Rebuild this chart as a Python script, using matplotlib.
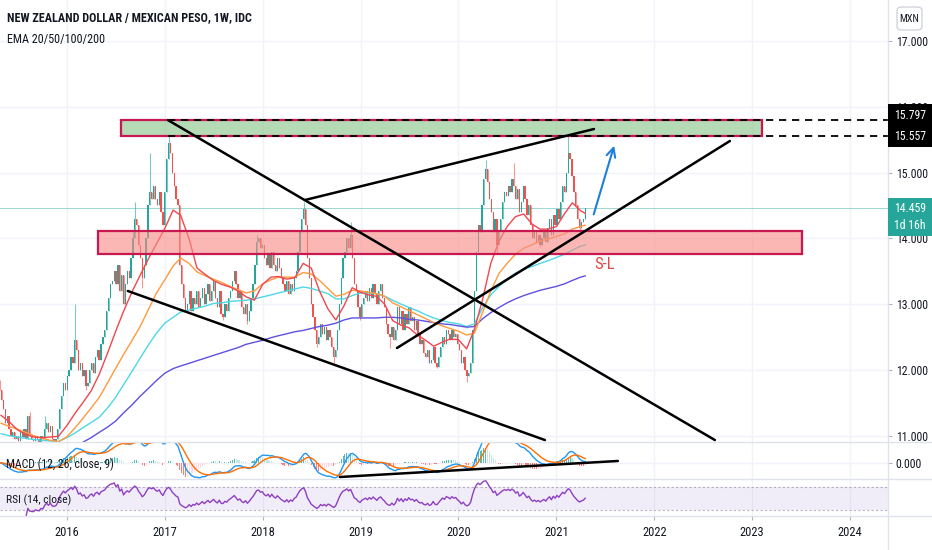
import numpy as np
import pandas as pd
import matplotlib
matplotlib.use("Agg")
import matplotlib.pyplot as plt
import matplotlib.dates as mdates
from matplotlib.patches import Rectangle, FancyBboxPatch
from matplotlib.lines import Line2D
from matplotlib import font_manager

# ---- pick the narrowest sans family that is installed ----
_fl = font_manager.fontManager.ttflist
_names = {f.name for f in _fl}
_fam, _stretch = None, 'normal'
for p in ["Liberation Sans Narrow", "Roboto Condensed", "Open Sans Condensed", "Noto Sans Condensed"]:
    if p in _names:
        _fam = p
        break
if _fam is None:
    for pref in ["Noto Sans", "Roboto", "Open Sans", "DejaVu Sans"]:
        hits = [f for f in _fl if f.name == pref and f.stretch in ('condensed', 'semi-condensed', 'extra-condensed')]
        if hits:
            _fam, _stretch = pref, hits[0].stretch
            break
if _fam is None:
    _fam = "Liberation Sans" if "Liberation Sans" in _names else "DejaVu Sans"
plt.rcParams['font.family'] = [_fam, "DejaVu Sans"]
plt.rcParams['font.stretch'] = _stretch

# ---------------- data ----------------
first_week = "2015-04-26"
first_open = 11.85
closes = [
 11.70, 11.55, 11.40, 11.20, 11.30, 11.10, 11.00,
 11.05, 10.95, 11.00, 10.92, 11.05, 10.98, 11.10, 10.95, 11.30, 11.00,
 10.95, 10.92, 11.00, 10.95, 10.90, 11.00, 10.95,
 11.10, 11.20, 11.05, 11.15, 10.95, 10.92,
 10.95, 11.10, 11.40, 11.60, 11.80, 11.70, 11.90,
 12.00, 12.20, 12.10, 12.45, 12.30, 12.00, 12.10, 11.90, 12.00, 11.75, 11.80,
 12.00, 12.10, 11.95, 12.20, 12.30, 12.15, 12.40, 12.50,
 12.60, 12.90, 13.10, 13.30,
 13.35, 13.50, 13.30, 13.60, 13.20, 13.45, 13.00, 13.30, 13.50, 13.40,
 13.70, 14.00, 14.30, 14.20,
 13.90, 13.70, 13.40, 13.60,
 14.00, 14.50, 14.70, 14.60,
 14.80, 14.60, 14.50, 14.70, 14.40, 14.20,
 14.70, 15.20, 15.45, 15.30,
 15.00, 14.80, 14.60, 14.50,
 13.60,
 13.30, 13.10, 12.90, 13.00, 13.20, 12.90, 13.10,
 13.00, 13.20, 12.95, 13.10, 13.25, 13.00, 13.15, 13.30, 13.05, 13.20,
 13.35, 13.10, 12.95, 13.20, 12.85, 12.80, 13.00, 12.90, 13.10,
 13.20, 13.35, 13.50, 13.30, 13.10, 13.20, 12.95, 12.85,
 13.00, 12.75, 12.90, 13.10, 13.30, 13.60, 13.95,
 14.00, 13.85, 13.90, 13.70,
 13.60, 13.75, 13.55, 13.80, 13.60, 13.50, 13.70, 13.55, 13.40, 13.30,
 13.20, 13.35, 13.15, 13.30, 13.20, 13.40, 13.50,
 13.80, 14.10, 14.30, 14.45,
 14.20, 13.70, 13.40, 13.00,
 12.80, 12.60, 12.40, 12.50, 12.70,
 12.55, 12.65, 12.45, 12.60, 12.50, 12.35, 12.20, 12.30,
 12.60, 13.00, 13.40, 13.70, 13.80, 14.00, 13.85, 14.05,
 13.70, 13.30, 13.20, 12.95, 12.80, 13.00, 13.10,
 13.20, 13.05, 13.25, 13.10, 13.30, 13.15, 13.00, 13.20, 13.30, 13.10, 12.95,
 12.70, 12.55, 12.50, 12.65, 12.45,
 12.60, 12.95, 12.70, 12.90, 12.60, 12.85, 12.70, 12.95, 12.75,
 12.80, 12.60, 12.75, 12.55, 12.40, 12.45, 12.25,
 12.20, 12.30, 12.10, 12.15, 12.35, 12.10, 12.05, 12.20,
 12.35, 12.50, 12.40, 12.60, 12.55, 12.45, 12.60, 12.50, 12.55, 12.40,
 12.30, 12.10, 12.20, 12.00, 11.90,
 11.95, 12.10, 12.60, 13.20, 13.80, 14.20, 14.10, 14.50, 14.90, 15.05, 14.85, 14.60,
 14.40, 14.10, 14.30, 13.90, 14.10,
 14.30, 14.55, 14.70, 14.65, 14.80, 14.70, 14.90, 14.80,
 14.60, 14.75, 14.40, 14.55, 14.80, 14.60, 14.35, 14.50,
 14.20, 14.00, 14.10, 13.95, 14.05, 13.90, 14.00, 14.10, 13.95, 14.15,
 14.30, 14.05, 14.35, 14.20, 14.45, 14.30, 14.55, 14.80, 14.70, 15.00, 15.30, 15.20,
 14.95, 14.70, 14.50, 14.30, 14.15, 14.25, 14.30, 14.459,
]
# notable wicks (week index -> price)
high_marks = {16: 11.36, 24: 11.30, 40: 13.00, 71: 14.10, 72: 14.55, 80: 15.30, 90: 15.55,
              137: 14.05, 162: 14.55, 187: 14.25, 259: 15.19, 274: 15.15, 303: 15.57}
low_marks = {46: 11.70, 76: 13.25, 119: 12.76, 132: 12.70, 169: 12.35, 178: 12.10, 192: 12.76,
             208: 12.33, 233: 12.03, 249: 11.82, 265: 13.78, 288: 13.87, 309: 14.12}

# EMAs, monthly samples + last week
ema_start = "2015-05-01"
ema20 = [11.31, 11.21, 11.09, 11.02, 10.98, 10.97, 10.98, 10.99,
         11.15, 11.34, 11.50, 11.68, 11.93, 12.25, 12.58, 12.90, 13.19, 13.44, 13.69, 13.92,
         14.15, 14.43, 14.35, 14.00, 13.55, 13.45, 13.36, 13.30, 13.26, 13.20, 13.11, 13.06,
         13.30, 13.41, 13.42, 13.38, 13.40, 13.62, 13.55, 13.20, 12.93, 12.76, 12.98, 13.25,
         13.18, 13.14, 13.12, 13.00, 12.75, 12.68, 12.64, 12.53, 12.45, 12.36, 12.42, 12.47,
         12.46, 12.32, 12.62, 13.08, 13.62, 13.96, 14.18, 14.33, 14.37, 14.22, 14.14, 14.14,
         14.18, 14.38, 14.54, 14.42, 14.38]
ema50 = [11.19, 11.14, 11.10, 11.05, 11.00, 10.96, 10.93, 10.91,
         10.98, 11.12, 11.26, 11.42, 11.58, 11.80, 12.02, 12.24, 12.45, 12.66, 12.92, 13.17,
         13.37, 13.58, 13.70, 13.62, 13.49, 13.43, 13.38, 13.33, 13.27, 13.22, 13.17, 13.20,
         13.31, 13.37, 13.41, 13.41, 13.41, 13.48, 13.46, 13.36, 13.24, 13.12, 13.15, 13.21,
         13.20, 13.18, 13.16, 13.12, 13.02, 12.96, 12.90, 12.84, 12.78, 12.72, 12.67, 12.63,
         12.59, 12.53, 12.56, 12.88, 13.20, 13.47, 13.62, 13.76, 13.85, 13.90, 13.96, 13.99,
         14.03, 14.07, 14.14, 14.18, 14.20]
ema100 = [11.03, 11.00, 10.98, 10.96, 10.94, 10.93, 10.92, 10.91,
          10.97, 11.04, 11.12, 11.20, 11.28, 11.42, 11.58, 11.78, 11.98, 12.18, 12.38, 12.56,
          12.71, 12.80, 12.88, 12.91, 12.94, 12.97, 13.01, 13.02, 13.04, 13.05, 13.06, 13.08,
          13.11, 13.14, 13.17, 13.20, 13.23, 13.26, 13.24, 13.20, 13.16, 13.08, 13.08, 13.13,
          13.17, 13.17, 13.16, 13.12, 13.06, 13.00, 12.95, 12.90, 12.84, 12.79, 12.75, 12.72,
          12.70, 12.66, 12.70, 12.95, 13.14, 13.27, 13.38, 13.47, 13.53, 13.57, 13.62, 13.66,
          13.71, 13.76, 13.82, 13.88, 13.90]
ema200_start = "2015-10-01"
ema200 = [10.62, 10.65, 10.70,
          10.76, 10.83, 10.90, 10.97, 11.05, 11.13, 11.22, 11.35, 11.47, 11.60, 11.72, 11.84,
          11.95, 12.02, 12.06, 12.10, 12.14, 12.18, 12.22, 12.26, 12.30, 12.34, 12.39, 12.42,
          12.45, 12.49, 12.52, 12.55, 12.58, 12.60, 12.63, 12.66, 12.68, 12.71, 12.76, 12.79,
          12.79, 12.79, 12.79, 12.80, 12.80, 12.79, 12.77, 12.76, 12.74, 12.72, 12.70, 12.69,
          12.67, 12.65, 12.66, 12.78, 12.87, 12.95, 13.02, 13.08, 13.13, 13.17, 13.21, 13.24,
          13.27, 13.31, 13.36, 13.41, 13.43]

# drawings (date, price anchors)
trend_lines = [("2017-01-13", 15.797, "2022-08-15", 10.934),
               ("2016-08-16", 13.200, "2020-11-19", 10.934),
               ("2018-06-08", 14.583, "2021-05-21", 15.662),
               ("2019-05-17", 12.333, "2022-10-10", 15.480)]
macd_trend = ("2018-10-16", -0.294, "2021-08-18", 0.035)
supply_zone = ("2016-07-21", "2023-02-06", 15.557, 15.797)
demand_zone = ("2016-04-26", "2023-07-05", 13.758, 14.117)
level_start = "2017-01-13"
levels = [15.797, 15.557]
last_price = 14.459
bar_timer = "1d 16h"
arrow = ("2021-05-17", 14.324, "2021-08-07", 15.449)
sl_label = ("2021-07-01", 13.595)
year_ticks = [2016, 2017, 2018, 2019, 2020, 2021, 2022, 2023, 2024]
price_ticks = [11, 12, 13, 14, 15, 16, 17]
title = "NEW ZEALAND DOLLAR / MEXICAN PESO, 1W, IDC"
subtitle = "EMA 20/50/100/200"
macd_title = "MACD (12, 26, close, 9)"
rsi_title = "RSI (14, close)"
currency = "MXN"

# ---------------- derived series ----------------
D = lambda s: mdates.date2num(pd.Timestamp(s))
c = pd.Series(closes, index=pd.date_range(first_week, periods=len(closes), freq="7D"))
dates = mdates.date2num(c.index.to_pydatetime())
opens = np.r_[first_open, c.values[:-1]]
cl = c.values
highs = np.maximum(opens, cl)
lows = np.minimum(opens, cl)
for k, v in high_marks.items():
    highs[k] = v
for k, v in low_marks.items():
    lows[k] = v

ema_dates = list(pd.date_range(ema_start, periods=len(ema20) - 1, freq="MS")) + [c.index[-1]]
ema200_dates = list(pd.date_range(ema200_start, periods=len(ema200) - 1, freq="MS")) + [c.index[-1]]

macd = c.ewm(span=12, adjust=False).mean() - c.ewm(span=26, adjust=False).mean()
signal = macd.ewm(span=9, adjust=False).mean()
hist = macd - signal
delta = c.diff()
gain = delta.clip(lower=0).ewm(alpha=1/14, adjust=False, min_periods=14).mean()
loss = (-delta.clip(upper=0)).ewm(alpha=1/14, adjust=False, min_periods=14).mean()
rsi = 100 - 100 / (1 + gain / loss)

# ---------------- layout ----------------
W, H = 932, 550
fig = plt.figure(figsize=(W / 100, H / 100), dpi=100)
R = fig.canvas.get_renderer()

def fit_size(s, size, maxw, **kw):
    t = fig.text(0, 0, s, fontsize=size, **kw)
    while t.get_window_extent(R).width > maxw and size > 6:
        size -= 0.25
        t.set_fontsize(size)
    t.remove()
    return size

def fr(x0, y0, x1, y1):
    return [x0 / W, 1 - y1 / H, (x1 - x0) / W, (y1 - y0) / H]
ax = fig.add_axes(fr(0, 0, 888, 442))
axm = fig.add_axes(fr(0, 442, 888, 479), sharex=ax)
axr = fig.add_axes(fr(0, 479, 888, 516), sharex=ax)

d16 = D("2016-01-01")
ppd = (850 - 66.7) / (D("2024-01-01") - d16)
xl = (d16 - 66.7 / ppd, d16 + (888 - 66.7) / ppd)
ax.set_xlim(*xl)
ppu = (435.7 - 41) / 6.0
ax.set_ylim(17 - 401 / ppu, 17 + 41 / ppu)
axm.set_ylim(-0.335, 0.425)
axr.set_ylim(19.7, 83.2)

TXT = '#131722'
GRID = '#f0f3fa'
AX_FS = fit_size("17.000", 9.5, 33)
YR_FS = fit_size("2016", 10, 25)

for a in (ax, axm, axr):
    for s in a.spines.values():
        s.set_visible(False)
    a.set_facecolor('white')
    a.set_xticks([D(f"{y}-01-01") for y in year_ticks])
    a.grid(True, color=GRID, lw=1, zorder=0)
    a.set_axisbelow(True)
    a.yaxis.tick_right()
ax.tick_params(axis='x', length=0, labelbottom=False)
axm.tick_params(axis='x', length=0, labelbottom=False)
axr.set_xticklabels([str(y) for y in year_ticks])
axr.tick_params(axis='x', length=3, color='#b2b5be', pad=4.5, labelsize=YR_FS, labelcolor=TXT)

ax.set_yticks(price_ticks)
ax.set_yticklabels([f"{v:.3f}" for v in price_ticks])
ax.tick_params(axis='y', length=3, color='#b2b5be', pad=2.5, labelsize=AX_FS, labelcolor=TXT)
axm.set_yticks([0])
axm.set_yticklabels(["0.000"])
axm.tick_params(axis='y', length=3, color='#b2b5be', pad=2.5, labelsize=AX_FS, labelcolor=TXT)
axr.set_yticks([])

# ---------------- main pane ----------------
up = cl >= opens
UPC, DNC = '#26a69a', '#ef5350'
col = np.where(up, UPC, DNC)
ax.vlines(dates, lows, highs, colors=col, lw=0.8, alpha=0.6, zorder=2)
ax.bar(dates, np.maximum(np.abs(cl - opens), 0.015), bottom=np.minimum(opens, cl),
       width=4.8, color=col, alpha=1.0, lw=0, zorder=2)

ax.plot(ema_dates, ema100, color='#4dd8e6', lw=1, zorder=3)
ax.plot(ema200_dates, ema200, color='#5e50e0', lw=1, zorder=3)
ax.plot(ema_dates, ema50, color='#ff9a3c', lw=1, zorder=3)
ax.plot(ema_dates, ema20, color='#f2464f', lw=1, zorder=3)

ax.axhline(last_price, color='#26a69a', lw=0.7, alpha=0.45, zorder=1)

BORDER = '#c8184f'
for (d0, d1, p0, p1), fc in ((supply_zone, (0.55, 0.78, 0.56, 0.65)),
                             (demand_zone, (0.97, 0.55, 0.53, 0.62))):
    ax.add_patch(Rectangle((D(d0), p0), D(d1) - D(d0), p1 - p0, facecolor=fc,
                           edgecolor=BORDER, lw=1.6, zorder=4))
for lv in levels:
    ax.plot([D(level_start), xl[1]], [lv, lv], color='black', lw=1.3,
            dashes=(4, 3.2), zorder=5, clip_on=False)

for d0, p0, d1, p1 in trend_lines:
    ax.plot([D(d0), D(d1)], [p0, p1], color='black', lw=1.8, zorder=6, solid_capstyle='round')

ax.annotate('', xy=(D(arrow[2]), arrow[3]), xytext=(D(arrow[0]), arrow[1]),
            arrowprops=dict(arrowstyle='->', color='#1f7fd8', lw=1.5, mutation_scale=16), zorder=7)
ax.text(D(sl_label[0]), sl_label[1], 'S-L', color='#e04848', fontsize=12, ha='center', va='center', zorder=7)

# ---------------- MACD pane ----------------
hv = hist.values
hp = np.r_[0, hv[:-1]]
hcol = np.where(hv >= 0, np.where(hv > hp, '#26a69a', '#b2dfdb'),
                np.where(hv < hp, '#ff5252', '#ffcdd2'))
axm.bar(dates, hv, width=4.0, color=hcol, alpha=0.75, lw=0, zorder=2)
axm.plot(dates, macd.values, color='#2196f3', lw=1, zorder=3)
axm.plot(dates, signal.values, color='#ff6d00', lw=1, zorder=3)
axm.plot([D(macd_trend[0]), D(macd_trend[2])], [macd_trend[1], macd_trend[3]],
         color='black', lw=1.8, zorder=4, solid_capstyle='round')

# ---------------- RSI pane ----------------
axr.axhspan(30, 70, color='#7e57c2', alpha=0.1, lw=0, zorder=1)
for lv in (70, 30):
    axr.axhline(lv, color='#9c8fb5', lw=0.8, dashes=(2, 2), alpha=0.7, zorder=1)
axr.plot(dates, rsi.values, color='#8e3fc0', lw=1, zorder=3)

# ---------------- frame / labels ----------------
SEP = '#e0e3eb'
for yy in (442, 479, 516):
    fig.add_artist(Line2D([0, 1], [1 - yy / H] * 2, transform=fig.transFigure, color=SEP, lw=1))
fig.add_artist(Line2D([888 / W] * 2, [0, 1], transform=fig.transFigure, color=SEP, lw=1))

fig.text(7 / W, 1 - 18 / H, title, fontsize=fit_size(title, 10, 250, weight='bold'),
         weight='bold', color=TXT, va='center', ha='left')
fig.text(7 / W, 1 - 40 / H, subtitle, fontsize=fit_size(subtitle, 10, 100), color=TXT, va='center', ha='left')
fig.text(6 / W, 1 - 464 / H, macd_title, fontsize=fit_size(macd_title, 10, 110), color=TXT, va='center', ha='left')
fig.text(6 / W, 1 - 500 / H, rsi_title, fontsize=fit_size(rsi_title, 10, 66), color=TXT, va='center', ha='left')

def frect(x0, y0, x1, y1, **kw):
    fig.add_artist(Rectangle((x0 / W, 1 - y1 / H), (x1 - x0) / W, (y1 - y0) / H,
                             transform=fig.transFigure, **kw))
frect(888, 104, 932, 147, facecolor='black', edgecolor='none', zorder=10)
fig.text(894 / W, 1 - 115.5 / H, f"{levels[0]:.3f}", color='white', fontsize=AX_FS, va='center', zorder=11)
fig.text(894 / W, 1 - 136 / H, f"{levels[1]:.3f}", color='white', fontsize=AX_FS, va='center', zorder=11)
frect(888, 198, 932, 236, facecolor='#26a69a', edgecolor='none', zorder=10)
fig.text(894 / W, 1 - 208.5 / H, f"{last_price:.3f}", color='white', fontsize=AX_FS, va='center', zorder=11)
fig.text(894 / W, 1 - 225.5 / H, bar_timer, color='white', fontsize=AX_FS, va='center', zorder=11)
fig.add_artist(FancyBboxPatch((897 / W, 1 - 30 / H), 25 / W, 23 / H, boxstyle="round,pad=0,rounding_size=0.006",
                              transform=fig.transFigure, facecolor='white', edgecolor='#d1d4dc', lw=1))
fig.text(909.5 / W, 1 - 18.5 / H, currency, color=TXT, fontsize=fit_size(currency, 8.5, 20),
         ha='center', va='center')

fig.savefig("out.png", dpi=100)
